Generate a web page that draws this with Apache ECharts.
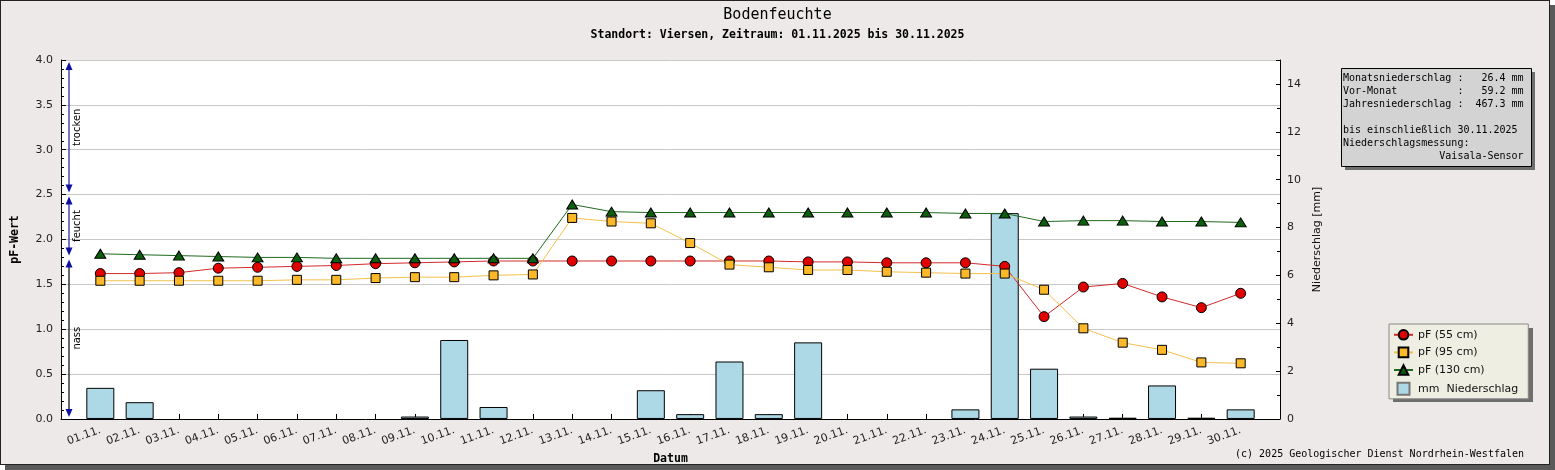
<!DOCTYPE html>
<html>
<head>
<meta charset="utf-8">
<script src="https://cdn.jsdelivr.net/npm/echarts@6/dist/echarts.min.js"></script>
<style>
html,body{margin:0;padding:0;background:#ffffff;}
#frame{position:absolute;left:0;top:0;width:1548px;height:463px;border:1px solid #222;background:#ECE9E8;box-shadow:5px 5px 0 #5a5a5a;}
#main{position:absolute;left:0;top:0;width:1555px;height:470px;}
</style>
</head>
<body>
<div id="frame"></div>
<div id="main"></div>
<script>
// ---- data ----
const days = ['01.11.','02.11.','03.11.','04.11.','05.11.','06.11.','07.11.','08.11.','09.11.','10.11.',
  '11.11.','12.11.','13.11.','14.11.','15.11.','16.11.','17.11.','18.11.','19.11.','20.11.',
  '21.11.','22.11.','23.11.','24.11.','25.11.','26.11.','27.11.','28.11.','29.11.','30.11.'];
const pf55 = [1.62,1.62,1.63,1.68,1.69,1.70,1.71,1.73,1.74,1.75,1.76,1.76,1.76,1.76,1.76,1.76,1.76,1.76,1.75,1.75,1.74,1.74,1.74,1.70,1.14,1.47,1.51,1.36,1.24,1.40];
const pf95 = [1.54,1.54,1.54,1.54,1.54,1.55,1.55,1.57,1.58,1.58,1.60,1.61,2.24,2.20,2.18,1.96,1.72,1.69,1.66,1.66,1.64,1.63,1.62,1.62,1.44,1.01,0.85,0.77,0.63,0.62];
const pf130 = [1.84,1.83,1.82,1.81,1.80,1.80,1.79,1.79,1.79,1.79,1.79,1.79,2.39,2.31,2.30,2.30,2.30,2.30,2.30,2.30,2.30,2.30,2.29,2.29,2.20,2.21,2.21,2.20,2.20,2.19];
const rain = [1.3,0.7,0,0,0,0,0,0,0.1,3.3,0.5,0,0,0,1.2,0.2,2.4,0.2,3.2,0,0,0,0.4,8.6,2.1,0.1,0.05,1.4,0.05,0.4];
const zoneNames = ['trocken','feucht','nass'];
const zoneTop = [4.0, 2.5, 1.8];
const zoneBottom = [2.5, 1.8, 0.0];
const zoneLineColors = ['#1a1aa8','#1a1aa8','#000000'];
const infoLines = [
  'Monatsniederschlag :   26.4 mm',
  'Vor-Monat          :   59.2 mm',
  'Jahresniederschlag :  467.3 mm',
  '',
  'bis einschließlich 30.11.2025',
  'Niederschlagsmessung:',
  '                Vaisala-Sensor'
];
const titleText = 'Bodenfeuchte';
const subtitleText = 'Standort: Viersen, Zeitraum: 01.11.2025 bis 30.11.2025';
const copyrightText = '(c) 2025 Geologischer Dienst Nordrhein-Westfalen';
const seriesNames = ['pF (55 cm)','pF (95 cm)','pF (130 cm)','mm  Niederschlag'];

// category axis with an empty slot at both ends
const cats = [''].concat(days, ['']);
const pad = arr => [null].concat(arr, [null]);
// days without rain draw no bar
const rainBars = rain.map(v => (v > 0 ? v : null));

const MONO = '"DejaVu Sans Mono", monospace';
const SANS = '"DejaVu Sans", sans-serif';

const chart = echarts.init(document.getElementById('main'), null, {renderer:'canvas'});
const option = {
  backgroundColor: 'transparent',
  animation: false,
  title: [
    {text: titleText, left: 'center', top: 3,
     textStyle: {fontFamily: MONO, fontSize: 15, fontWeight: 'normal', color: '#000'}},
    {text: subtitleText, left: 'center', top: 24,
     textStyle: {fontFamily: MONO, fontSize: 11.5, fontWeight: 'bold', color: '#000'}}
  ],
  grid: {left: 61, right: 275, top: 60, bottom: 50, show: true, backgroundColor: '#ffffff', borderWidth: 0},
  legend: {
    orient: 'vertical', left: 1389, top: 324, z: 10,
    data: [{name: seriesNames[0]}, {name: seriesNames[1]}, {name: seriesNames[2]},
           {name: seriesNames[3], icon: 'path://M0,0H10V10H0Z', itemStyle: {borderColor: '#777'}}],
    itemWidth: 19, itemHeight: 12, itemGap: 6, padding: [5, 10, 3, 4],
    backgroundColor: '#EEEEE3', borderColor: '#888888', borderWidth: 1,
    textStyle: {fontFamily: SANS, fontSize: 11, color: '#111'}
  },
  xAxis: {
    type: 'category', data: cats, boundaryGap: false,
    name: 'Datum', nameLocation: 'middle', nameGap: 31,
    nameTextStyle: {fontFamily: MONO, fontSize: 11.5, fontWeight: 'bold', color: '#000'},
    axisLine: {lineStyle: {color: '#000', width: 1}},
    axisTick: {inside: true, length: 5, interval: 0, lineStyle: {color: '#000'}},
    axisLabel: {interval: 0, rotate: 20, margin: 11, fontFamily: SANS, fontSize: 11, color: '#222'},
    splitLine: {show: false}
  },
  yAxis: [
    {
      type: 'value', min: 0, max: 4, interval: 0.5, position: 'left',
      name: 'pF-Wert', nameLocation: 'middle', nameGap: 40, nameRotate: 90,
      nameTextStyle: {fontFamily: MONO, fontSize: 11.5, fontWeight: 'bold', color: '#000'},
      axisLine: {show: true, lineStyle: {color: '#000', width: 1}},
      axisTick: {show: true, inside: true, length: 5, lineStyle: {color: '#000'}},
      minorTick: {show: true, splitNumber: 5, length: 3, lineStyle: {color: '#000'}},
      axisLabel: {formatter: v => v.toFixed(1), margin: 8, fontFamily: SANS, fontSize: 11, color: '#222'},
      splitLine: {show: true, lineStyle: {color: '#c8c8c8', width: 1}}
    },
    {
      type: 'value', min: 0, max: 15, interval: 2, position: 'right',
      name: 'Niederschlag [mm]', nameLocation: 'middle', nameGap: 32, nameRotate: 90,
      nameTextStyle: {fontFamily: SANS, fontSize: 11, color: '#111'},
      axisLine: {show: true, lineStyle: {color: '#000', width: 1}},
      axisTick: {show: true, inside: true, length: 4, lineStyle: {color: '#000'}},
      minorTick: {show: true, splitNumber: 2, length: 3, lineStyle: {color: '#000'}},
      axisLabel: {formatter: v => (v > 14 ? '' : String(v)), margin: 7, fontFamily: SANS, fontSize: 11, color: '#222'},
      splitLine: {show: false}
    }
  ],
  series: [
    {
      name: seriesNames[3], type: 'bar', yAxisIndex: 1, data: pad(rainBars), barWidth: 28,
      itemStyle: {color: '#ADD8E6', borderColor: '#000', borderWidth: 1}, z: 2
    },
    {
      name: seriesNames[0], type: 'line', data: pad(pf55), symbol: 'circle', symbolSize: 10,
      itemStyle: {color: '#e00000', borderColor: '#000', borderWidth: 1},
      lineStyle: {color: '#d42a2a', width: 1}, z: 3
    },
    {
      name: seriesNames[1], type: 'line', data: pad(pf95), symbol: 'rect', symbolSize: 9,
      itemStyle: {color: '#fbb829', borderColor: '#000', borderWidth: 1},
      lineStyle: {color: '#f2c24a', width: 1}, z: 4
    },
    {
      name: seriesNames[2], type: 'line', data: pad(pf130), symbol: 'triangle', symbolSize: [11, 9],
      itemStyle: {color: '#0b5e0b', borderColor: '#000', borderWidth: 1},
      lineStyle: {color: '#1f6a1f', width: 1}, z: 5
    },
    {
      name: 'zones', type: 'custom', yAxisIndex: 0, silent: true, z: 6,
      data: zoneTop.map((v, i) => [0, v, zoneBottom[i]]),
      renderItem: function (params, api) {
        const i = params.dataIndex;
        const cs = params.coordSys;
        const x = cs.x + 8;
        const yTop = api.coord([0, zoneTop[i]])[1] + 2;
        const yBot = api.coord([0, zoneBottom[i]])[1] - 2;
        return {
          type: 'group',
          children: [
            {type: 'line', shape: {x1: x, y1: yTop + 3, x2: x, y2: yBot - 3},
             style: {stroke: zoneLineColors[i], lineWidth: 1.2}},
            {type: 'polygon', shape: {points: [[x, yTop], [x - 3.5, yTop + 8], [x + 3.5, yTop + 8]]},
             style: {fill: '#1010a0'}},
            {type: 'polygon', shape: {points: [[x, yBot], [x - 3.5, yBot - 8], [x + 3.5, yBot - 8]]},
             style: {fill: '#1010a0'}},
            {type: 'text', x: x + 8, y: (yTop + yBot) / 2, rotation: Math.PI / 2,
             style: {text: zoneNames[i], fill: '#000', font: '10px ' + SANS, align: 'center', verticalAlign: 'middle'}}
          ]
        };
      }
    }
  ],
  graphic: [
    {
      type: 'rect', left: 1345, top: 72, z: 99, silent: true,
      shape: {width: 190, height: 98},
      style: {fill: '#6e6e6e'}
    },
    {
      type: 'rect', left: 1341, top: 68, z: 100, silent: true,
      shape: {width: 190, height: 98},
      style: {fill: '#d3d3d3', stroke: '#000', lineWidth: 1}
    },
    {
      type: 'text', left: 1343, top: 72, z: 101,
      style: {text: infoLines.join('\n'), font: '10px ' + MONO, lineHeight: 13, fill: '#000'}
    },
    {
      type: 'rect', left: 1393, top: 328, z: 1, silent: true,
      shape: {width: 140, height: 74},
      style: {fill: '#6e6e6e'}
    },
    {
      type: 'text', right: 31, top: 449, z: 101,
      style: {text: copyrightText, font: '10px ' + MONO, fill: '#000'}
    }
  ]
};
chart.setOption(option);
</script>
</body>
</html>
